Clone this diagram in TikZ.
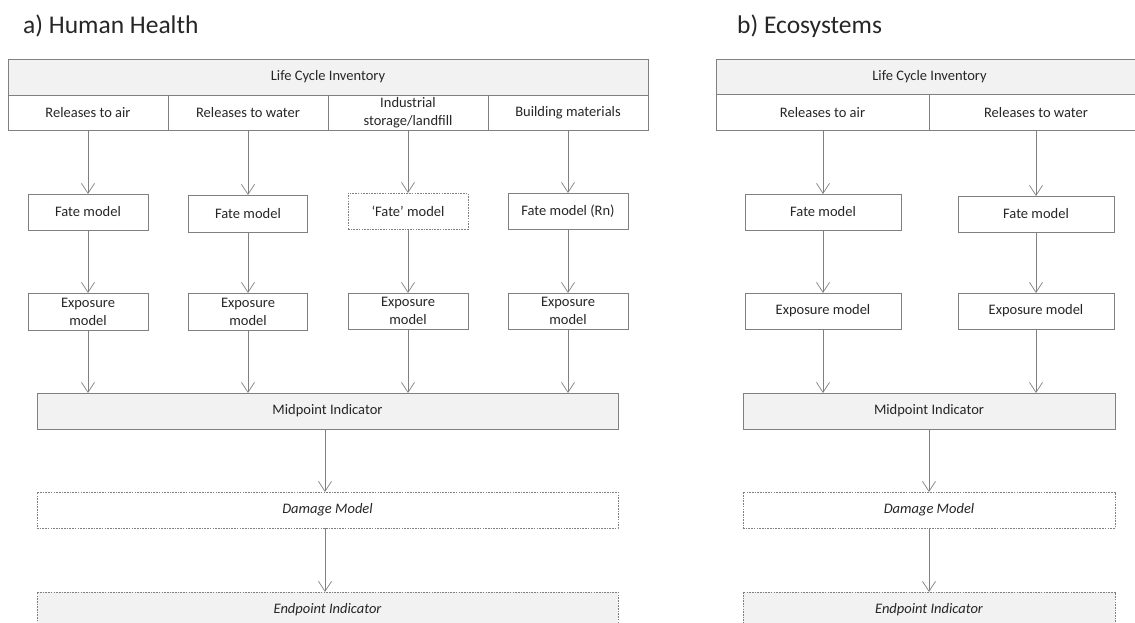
\documentclass[tikz,border=0pt]{standalone}
\usepackage{fontspec}
\setmainfont{Carlito}
\usetikzlibrary{arrows.meta}
\definecolor{lc}{HTML}{808080}
\definecolor{fillg}{HTML}{F2F2F2}
\definecolor{tc}{HTML}{262626}
\tikzset{
  box/.style={draw=lc, line width=0.8pt, inner sep=0pt, outer sep=0pt, align=center,
    text=tc, font=\fontsize{14.5}{18}\selectfont},
  shaded/.style={fill=fillg},
  dotbox/.style={dash pattern=on 1.6pt off 1.1pt},
  arr/.style={draw=lc, line width=0.8pt, -{Straight Barb[length=10pt,width=13pt,line width=0.7pt]}},
  ttl/.style={anchor=base west, inner sep=0pt, text=tc, font=\fontsize{25.5}{30}\selectfont}
}
\begin{document}
\begin{tikzpicture}[x=1pt,y=-1pt]
\useasboundingbox (0,0) rectangle (1135,622);
\clip (0,0) rectangle (1135,622);

% ---------- a) Human Health ----------
\node[ttl] (tA) at (23,33.3) {a) Human Health};
\node[box,shaded,minimum width=640,minimum height=36] (lciA) at (328,77) {Life Cycle Inventory};
\node[box,minimum width=160,minimum height=35] (c1) at (88,112.5) {Releases to air};
\node[box,minimum width=160,minimum height=35] (c2) at (248,112.5) {Releases to water};
\node[box,minimum width=160,minimum height=35] (c3) at (408,112.5) {Industrial\\storage/landfill};
\node[box,minimum width=160,minimum height=35] (c4) at (568,112.5) {Building materials};

\node[box,minimum width=120,minimum height=36] (f1) at (88,212) {Fate model};
\node[box,minimum width=119,minimum height=37] (f2) at (248,213.5) {Fate model};
\node[box,dotbox,minimum width=120,minimum height=36] (f3) at (408,211) {‘Fate’ model};
\node[box,minimum width=120,minimum height=36] (f4) at (568,211) {Fate model (Rn)};

\node[box,minimum width=120,minimum height=37] (e1) at (88,311.5) {Exposure\\model};
\node[box,minimum width=119,minimum height=37] (e2) at (248,311.5) {Exposure\\model};
\node[box,minimum width=120,minimum height=36] (e3) at (408,311) {Exposure\\model};
\node[box,minimum width=120,minimum height=36] (e4) at (568,311) {Exposure\\model};

\node[box,shaded,minimum width=581,minimum height=36] (midA) at (327.5,411) {Midpoint Indicator};
\node[box,dotbox,minimum width=581,minimum height=36] (dmgA) at (327.5,510) {\itshape Damage Model};
\node[box,dotbox,shaded,minimum width=581,minimum height=36] (endA) at (327.5,610) {\itshape Endpoint Indicator};

\foreach \i in {1,2,3,4}{
  \draw[arr] (c\i.south) -- (f\i.north);
  \draw[arr] (f\i.south) -- (e\i.north);
  \draw[arr] (e\i.south) -- (e\i.south |- midA.north);
}
\draw[arr] (midA.south -| 325,0) -- (dmgA.north -| 325,0);
\draw[arr] (dmgA.south -| 325,0) -- (endA.north -| 325,0);

% ---------- b) Ecosystems ----------
\node[ttl] (tB) at (737,33.3) {b) Ecosystems};
\node[box,shaded,minimum width=427,minimum height=35.5] (lciB) at (929.5,77) {};
\node[text=tc, font=\fontsize{14.5}{18}\selectfont, inner sep=0pt] (lciBt) at (929.5,77) {Life Cycle Inventory};
\node[box,minimum width=213,minimum height=35.5] (d1) at (822.5,112.5) {Releases to air};
\node[box,minimum width=214,minimum height=35.5] (d2) at (1036,112.5) {Releases to water};

\node[box,minimum width=156,minimum height=36] (g1) at (823,212) {Fate model};
\node[box,minimum width=156,minimum height=36] (g2) at (1036,214) {Fate model};
\node[box,minimum width=156,minimum height=36] (h1) at (823,311) {Exposure model};
\node[box,minimum width=156,minimum height=36] (h2) at (1036,311) {Exposure model};

\node[box,shaded,minimum width=372,minimum height=36] (midB) at (929,411) {Midpoint Indicator};
\node[box,dotbox,minimum width=372,minimum height=36] (dmgB) at (929,510) {\itshape Damage Model};
\node[box,dotbox,shaded,minimum width=372,minimum height=36] (endB) at (929,610) {\itshape Endpoint Indicator};

\foreach \i in {1,2}{
  \draw[arr] (d\i.south -| g\i.north) -- (g\i.north);
  \draw[arr] (g\i.south) -- (h\i.north);
  \draw[arr] (h\i.south) -- (h\i.south |- midB.north);
}
\draw[arr] (midB.south) -- (dmgB.north);
\draw[arr] (dmgB.south) -- (endB.north);
\end{tikzpicture}
\end{document}
